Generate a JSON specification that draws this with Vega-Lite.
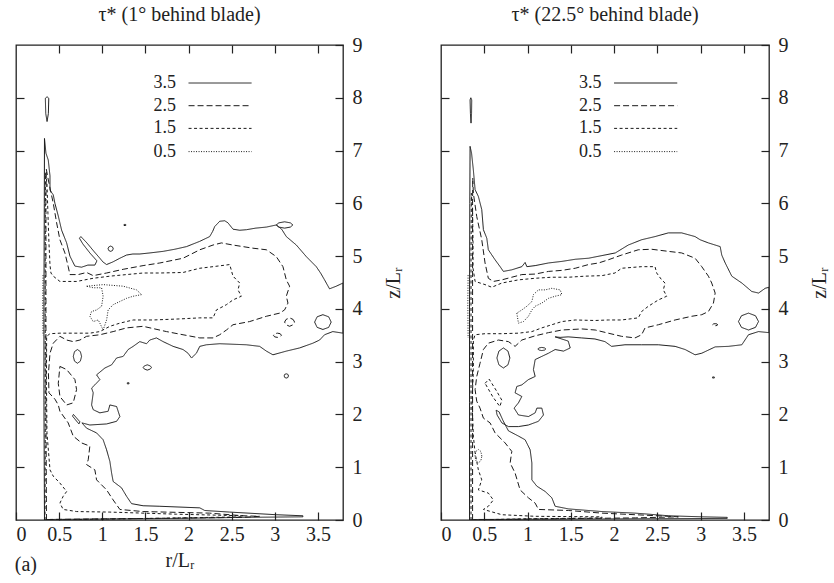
{
"$schema": "https://vega.github.io/schema/vega-lite/v6.json",
"padding": {"left": 14, "top": 4, "right": 0, "bottom": 0},
"config": {
 "font": "'Liberation Serif', 'Times New Roman', 'DejaVu Serif', serif",
 "view": {"stroke": "#222", "strokeWidth": 1.3},
 "axis": {"domain": false, "grid": false, "tickColor": "#222", "tickSize": -8, "tickWidth": 1.2, "labelFont": "'Liberation Serif', 'Times New Roman', 'DejaVu Serif', serif", "labelFontSize": 20, "labelColor": "#222", "titleFont": "'Liberation Serif', 'Times New Roman', 'DejaVu Serif', serif", "titleFontSize": 20, "titleFontWeight": "normal", "titleColor": "#222"},
 "title": {"font": "'Liberation Serif', 'Times New Roman', 'DejaVu Serif', serif", "fontSize": 20, "fontWeight": "normal", "color": "#222"}
},
"title": {"text": "(a)", "orient": "bottom", "anchor": "start", "offset": -16, "fontSize": 20},
"spacing": 35,
"datasets": {
 "leg": [
  {"lv": "3.5", "zl": 8.28, "x1": 2.0, "x2": 2.73, "xt": 1.9},
  {"lv": "2.5", "zl": 7.85, "x1": 2.0, "x2": 2.73, "xt": 1.9},
  {"lv": "1.5", "zl": 7.42, "x1": 2.0, "x2": 2.73, "xt": 1.9},
  {"lv": "0.5", "zl": 6.98, "x1": 2.0, "x2": 2.73, "xt": 1.9}
 ],
 "c": [
{"p":"L","c":"La","lv":"3.5","r":0.33,"z":0},{"p":"L","c":"La","lv":"3.5","r":0.324,"z":2.22},{"p":"L","c":"La","lv":"3.5","r":0.324,"z":4.11},{"p":"L","c":"La","lv":"3.5","r":0.328,"z":6.0},{"p":"L","c":"La","lv":"3.5","r":0.33,"z":7.23},{"p":"L","c":"La","lv":"3.5","r":0.347,"z":6.95},{"p":"L","c":"La","lv":"3.5","r":0.374,"z":6.82},{"p":"L","c":"La","lv":"3.5","r":0.394,"z":6.52},{"p":"L","c":"La","lv":"3.5","r":0.394,"z":6.25},{"p":"L","c":"La","lv":"3.5","r":0.432,"z":6.16},{"p":"L","c":"La","lv":"3.5","r":0.451,"z":6.0},{"p":"L","c":"La","lv":"3.5","r":0.49,"z":5.76},{"p":"L","c":"La","lv":"3.5","r":0.529,"z":5.49},{"p":"L","c":"La","lv":"3.5","r":0.587,"z":5.25},{"p":"L","c":"La","lv":"3.5","r":0.625,"z":5.0},{"p":"L","c":"La","lv":"3.5","r":0.683,"z":4.81},{"p":"L","c":"La","lv":"3.5","r":0.76,"z":4.79},{"p":"L","c":"La","lv":"3.5","r":0.833,"z":4.83},{"p":"L","c":"La","lv":"3.5","r":0.914,"z":4.83},{"p":"L","c":"La","lv":"3.5","r":0.938,"z":4.91},{"p":"L","c":"La","lv":"3.5","r":0.856,"z":5.06},{"p":"L","c":"La","lv":"3.5","r":0.775,"z":5.23},{"p":"L","c":"La","lv":"3.5","r":0.735,"z":5.34},{"p":"L","c":"La","lv":"3.5","r":0.752,"z":5.37},{"p":"L","c":"La","lv":"3.5","r":0.822,"z":5.25},{"p":"L","c":"La","lv":"3.5","r":0.903,"z":5.09},{"p":"L","c":"La","lv":"3.5","r":0.972,"z":4.96},{"p":"L","c":"La","lv":"3.5","r":1.007,"z":4.89},{"p":"L","c":"La","lv":"3.5","r":1.05,"z":4.84},{"p":"L","c":"La","lv":"3.5","r":1.123,"z":4.89},{"p":"L","c":"La","lv":"3.5","r":1.204,"z":4.96},{"p":"L","c":"La","lv":"3.5","r":1.281,"z":5.02},{"p":"L","c":"La","lv":"3.5","r":1.354,"z":5.04},{"p":"L","c":"La","lv":"3.5","r":1.435,"z":5.04},{"p":"L","c":"La","lv":"3.5","r":1.551,"z":5.06},{"p":"L","c":"La","lv":"3.5","r":1.705,"z":5.09},{"p":"L","c":"La","lv":"3.5","r":1.84,"z":5.13},{"p":"L","c":"La","lv":"3.5","r":1.976,"z":5.18},{"p":"L","c":"La","lv":"3.5","r":2.13,"z":5.28},{"p":"L","c":"La","lv":"3.5","r":2.245,"z":5.37},{"p":"L","c":"La","lv":"3.5","r":2.28,"z":5.47},{"p":"L","c":"La","lv":"3.5","r":2.303,"z":5.56},{"p":"L","c":"La","lv":"3.5","r":2.361,"z":5.66},{"p":"L","c":"La","lv":"3.5","r":2.419,"z":5.67},{"p":"L","c":"La","lv":"3.5","r":2.457,"z":5.63},{"p":"L","c":"La","lv":"3.5","r":2.515,"z":5.51},{"p":"L","c":"La","lv":"3.5","r":2.593,"z":5.49},{"p":"L","c":"La","lv":"3.5","r":2.67,"z":5.5},{"p":"L","c":"La","lv":"3.5","r":2.778,"z":5.53},{"p":"L","c":"La","lv":"3.5","r":2.902,"z":5.55},{"p":"L","c":"La","lv":"3.5","r":3.017,"z":5.59},{"p":"L","c":"La","lv":"3.5","r":3.079,"z":5.51},{"p":"L","c":"La","lv":"3.5","r":3.133,"z":5.37},{"p":"L","c":"La","lv":"3.5","r":3.249,"z":5.21},{"p":"L","c":"La","lv":"3.5","r":3.365,"z":4.99},{"p":"L","c":"La","lv":"3.5","r":3.48,"z":4.8},{"p":"L","c":"La","lv":"3.5","r":3.53,"z":4.68},{"p":"L","c":"La","lv":"3.5","r":3.576,"z":4.55},{"p":"L","c":"La","lv":"3.5","r":3.634,"z":4.38},{"p":"L","c":"La","lv":"3.5","r":3.712,"z":4.43},{"p":"L","c":"La","lv":"3.5","r":3.79,"z":4.49},{"p":"L","c":"La","lv":"3.5","r":3.79,"z":3.54},{"p":"L","c":"La","lv":"3.5","r":3.672,"z":3.57},{"p":"L","c":"La","lv":"3.5","r":3.576,"z":3.51},{"p":"L","c":"La","lv":"3.5","r":3.519,"z":3.41},{"p":"L","c":"La","lv":"3.5","r":3.441,"z":3.35},{"p":"L","c":"La","lv":"3.5","r":3.287,"z":3.26},{"p":"L","c":"La","lv":"3.5","r":3.133,"z":3.2},{"p":"L","c":"La","lv":"3.5","r":2.978,"z":3.13},{"p":"L","c":"La","lv":"3.5","r":2.902,"z":3.2},{"p":"L","c":"La","lv":"3.5","r":2.824,"z":3.29},{"p":"L","c":"La","lv":"3.5","r":2.67,"z":3.32},{"p":"L","c":"La","lv":"3.5","r":2.515,"z":3.33},{"p":"L","c":"La","lv":"3.5","r":2.361,"z":3.34},{"p":"L","c":"La","lv":"3.5","r":2.207,"z":3.32},{"p":"L","c":"La","lv":"3.5","r":2.13,"z":3.29},{"p":"L","c":"La","lv":"3.5","r":2.091,"z":3.16},{"p":"L","c":"La","lv":"3.5","r":2.034,"z":3.07},{"p":"L","c":"La","lv":"3.5","r":1.994,"z":3.16},{"p":"L","c":"La","lv":"3.5","r":1.936,"z":3.23},{"p":"L","c":"La","lv":"3.5","r":1.821,"z":3.29},{"p":"L","c":"La","lv":"3.5","r":1.705,"z":3.38},{"p":"L","c":"La","lv":"3.5","r":1.628,"z":3.45},{"p":"L","c":"La","lv":"3.5","r":1.551,"z":3.41},{"p":"L","c":"La","lv":"3.5","r":1.513,"z":3.34},{"p":"L","c":"La","lv":"3.5","r":1.435,"z":3.38},{"p":"L","c":"La","lv":"3.5","r":1.358,"z":3.29},{"p":"L","c":"La","lv":"3.5","r":1.3,"z":3.23},{"p":"L","c":"La","lv":"3.5","r":1.242,"z":3.1},{"p":"L","c":"La","lv":"3.5","r":1.166,"z":3.07},{"p":"L","c":"La","lv":"3.5","r":1.108,"z":2.94},{"p":"L","c":"La","lv":"3.5","r":1.03,"z":2.88},{"p":"L","c":"La","lv":"3.5","r":0.934,"z":2.75},{"p":"L","c":"La","lv":"3.5","r":0.972,"z":2.66},{"p":"L","c":"La","lv":"3.5","r":0.914,"z":2.56},{"p":"L","c":"La","lv":"3.5","r":0.876,"z":2.5},{"p":"L","c":"La","lv":"3.5","r":0.895,"z":2.41},{"p":"L","c":"La","lv":"3.5","r":0.876,"z":2.18},{"p":"L","c":"La","lv":"3.5","r":0.895,"z":2.09},{"p":"L","c":"La","lv":"3.5","r":0.972,"z":2.03},{"p":"L","c":"La","lv":"3.5","r":1.068,"z":2.06},{"p":"L","c":"La","lv":"3.5","r":1.088,"z":2.18},{"p":"L","c":"La","lv":"3.5","r":1.166,"z":2.15},{"p":"L","c":"La","lv":"3.5","r":1.204,"z":1.96},{"p":"L","c":"La","lv":"3.5","r":1.166,"z":1.87},{"p":"L","c":"La","lv":"3.5","r":1.05,"z":1.82},{"p":"L","c":"La","lv":"3.5","r":0.856,"z":1.8},{"p":"L","c":"La","lv":"3.5","r":0.764,"z":1.84},{"p":"L","c":"La","lv":"3.5","r":0.818,"z":1.74},{"p":"L","c":"La","lv":"3.5","r":0.934,"z":1.65},{"p":"L","c":"La","lv":"3.5","r":1.01,"z":1.52},{"p":"L","c":"La","lv":"3.5","r":1.05,"z":1.33},{"p":"L","c":"La","lv":"3.5","r":1.088,"z":1.11},{"p":"L","c":"La","lv":"3.5","r":1.108,"z":0.89},{"p":"L","c":"La","lv":"3.5","r":1.126,"z":0.73},{"p":"L","c":"La","lv":"3.5","r":1.223,"z":0.61},{"p":"L","c":"La","lv":"3.5","r":1.281,"z":0.45},{"p":"L","c":"La","lv":"3.5","r":1.339,"z":0.31},{"p":"L","c":"La","lv":"3.5","r":1.473,"z":0.27},{"p":"L","c":"La","lv":"3.5","r":1.667,"z":0.26},{"p":"L","c":"La","lv":"3.5","r":2.13,"z":0.23},{"p":"L","c":"La","lv":"3.5","r":2.188,"z":0.18},{"p":"L","c":"La","lv":"3.5","r":2.477,"z":0.15},{"p":"L","c":"La","lv":"3.5","r":3.017,"z":0.1},{"p":"L","c":"La","lv":"3.5","r":3.325,"z":0.08},{"p":"L","c":"La","lv":"3.5","r":3.325,"z":0.06},{"p":"L","c":"La","lv":"3.5","r":2.631,"z":0.05},{"p":"L","c":"La","lv":"3.5","r":1.86,"z":0.03},{"p":"L","c":"La","lv":"3.5","r":1.088,"z":0.02},{"p":"L","c":"La","lv":"3.5","r":0.394,"z":0.01},{"p":"L","c":"La","lv":"3.5","r":0.33,"z":0},
{"p":"L","c":"Lb","lv":"3.5","r":0.34,"z":7.99},{"p":"L","c":"Lb","lv":"3.5","r":0.345,"z":7.7},{"p":"L","c":"Lb","lv":"3.5","r":0.36,"z":7.55},{"p":"L","c":"Lb","lv":"3.5","r":0.375,"z":7.7},{"p":"L","c":"Lb","lv":"3.5","r":0.38,"z":7.99},{"p":"L","c":"Lb","lv":"3.5","r":0.36,"z":8.02},{"p":"L","c":"Lb","lv":"3.5","r":0.34,"z":7.99},
{"p":"L","c":"Lc","lv":"3.5","r":0.76,"z":3.1},{"p":"L","c":"Lc","lv":"3.5","r":0.746,"z":3.19},{"p":"L","c":"Lc","lv":"3.5","r":0.712,"z":3.23},{"p":"L","c":"Lc","lv":"3.5","r":0.678,"z":3.19},{"p":"L","c":"Lc","lv":"3.5","r":0.664,"z":3.1},{"p":"L","c":"Lc","lv":"3.5","r":0.678,"z":3.01},{"p":"L","c":"Lc","lv":"3.5","r":0.712,"z":2.97},{"p":"L","c":"Lc","lv":"3.5","r":0.746,"z":3.01},{"p":"L","c":"Lc","lv":"3.5","r":0.76,"z":3.1},
{"p":"L","c":"Ld","lv":"3.5","r":1.57,"z":2.89},{"p":"L","c":"Ld","lv":"3.5","r":1.556,"z":2.92},{"p":"L","c":"Ld","lv":"3.5","r":1.522,"z":2.94},{"p":"L","c":"Ld","lv":"3.5","r":1.488,"z":2.92},{"p":"L","c":"Ld","lv":"3.5","r":1.474,"z":2.89},{"p":"L","c":"Ld","lv":"3.5","r":1.488,"z":2.86},{"p":"L","c":"Ld","lv":"3.5","r":1.522,"z":2.84},{"p":"L","c":"Ld","lv":"3.5","r":1.556,"z":2.86},{"p":"L","c":"Ld","lv":"3.5","r":1.57,"z":2.89},
{"p":"L","c":"Le","lv":"3.5","r":1.29,"z":2.58},{"p":"L","c":"Le","lv":"3.5","r":1.31,"z":2.58},{"p":"L","c":"Le","lv":"3.5","r":1.31,"z":2.6},{"p":"L","c":"Le","lv":"3.5","r":1.29,"z":2.6},{"p":"L","c":"Le","lv":"3.5","r":1.29,"z":2.58},
{"p":"L","c":"Lf","lv":"3.5","r":1.252,"z":5.58},{"p":"L","c":"Lf","lv":"3.5","r":1.272,"z":5.58},{"p":"L","c":"Lf","lv":"3.5","r":1.272,"z":5.6},{"p":"L","c":"Lf","lv":"3.5","r":1.252,"z":5.6},{"p":"L","c":"Lf","lv":"3.5","r":1.252,"z":5.58},
{"p":"L","c":"Lg","lv":"3.5","r":1.127,"z":5.14},{"p":"L","c":"Lg","lv":"3.5","r":1.118,"z":5.175},{"p":"L","c":"Lg","lv":"3.5","r":1.097,"z":5.19},{"p":"L","c":"Lg","lv":"3.5","r":1.076,"z":5.175},{"p":"L","c":"Lg","lv":"3.5","r":1.067,"z":5.14},{"p":"L","c":"Lg","lv":"3.5","r":1.076,"z":5.105},{"p":"L","c":"Lg","lv":"3.5","r":1.097,"z":5.09},{"p":"L","c":"Lg","lv":"3.5","r":1.118,"z":5.105},{"p":"L","c":"Lg","lv":"3.5","r":1.127,"z":5.14},
{"p":"L","c":"Lh","lv":"3.5","r":3.158,"z":2.73},{"p":"L","c":"Lh","lv":"3.5","r":3.151,"z":2.76},{"p":"L","c":"Lh","lv":"3.5","r":3.133,"z":2.77},{"p":"L","c":"Lh","lv":"3.5","r":3.115,"z":2.76},{"p":"L","c":"Lh","lv":"3.5","r":3.108,"z":2.73},{"p":"L","c":"Lh","lv":"3.5","r":3.115,"z":2.7},{"p":"L","c":"Lh","lv":"3.5","r":3.133,"z":2.69},{"p":"L","c":"Lh","lv":"3.5","r":3.151,"z":2.7},{"p":"L","c":"Lh","lv":"3.5","r":3.158,"z":2.73},
{"p":"L","c":"Li","lv":"3.5","r":3.653,"z":3.75},{"p":"L","c":"Li","lv":"3.5","r":3.624,"z":3.85},{"p":"L","c":"Li","lv":"3.5","r":3.557,"z":3.89},{"p":"L","c":"Li","lv":"3.5","r":3.49,"z":3.85},{"p":"L","c":"Li","lv":"3.5","r":3.461,"z":3.75},{"p":"L","c":"Li","lv":"3.5","r":3.49,"z":3.65},{"p":"L","c":"Li","lv":"3.5","r":3.557,"z":3.61},{"p":"L","c":"Li","lv":"3.5","r":3.624,"z":3.65},{"p":"L","c":"Li","lv":"3.5","r":3.653,"z":3.75},
{"p":"L","c":"Lj","lv":"3.5","r":3.209,"z":5.59},{"p":"L","c":"Lj","lv":"3.5","r":3.18,"z":5.63},{"p":"L","c":"Lj","lv":"3.5","r":3.113,"z":5.65},{"p":"L","c":"Lj","lv":"3.5","r":3.046,"z":5.63},{"p":"L","c":"Lj","lv":"3.5","r":3.017,"z":5.59},{"p":"L","c":"Lj","lv":"3.5","r":3.046,"z":5.55},{"p":"L","c":"Lj","lv":"3.5","r":3.113,"z":5.53},{"p":"L","c":"Lj","lv":"3.5","r":3.18,"z":5.55},{"p":"L","c":"Lj","lv":"3.5","r":3.209,"z":5.59},
{"p":"L","c":"Lk","lv":"3.5","r":0.666,"z":2.0},{"p":"L","c":"Lk","lv":"3.5","r":0.741,"z":1.86},{"p":"L","c":"Lk","lv":"3.5","r":0.729,"z":1.82},{"p":"L","c":"Lk","lv":"3.5","r":0.654,"z":1.97},{"p":"L","c":"Lk","lv":"3.5","r":0.666,"z":2.0},
{"p":"L","c":"Ll","lv":"2.5","r":0.353,"z":0},{"p":"L","c":"Ll","lv":"2.5","r":0.347,"z":2.22},{"p":"L","c":"Ll","lv":"2.5","r":0.347,"z":4.11},{"p":"L","c":"Ll","lv":"2.5","r":0.347,"z":6.0},{"p":"L","c":"Ll","lv":"2.5","r":0.351,"z":6.65},{"p":"L","c":"Ll","lv":"2.5","r":0.37,"z":6.48},{"p":"L","c":"Ll","lv":"2.5","r":0.394,"z":6.29},{"p":"L","c":"Ll","lv":"2.5","r":0.432,"z":6.0},{"p":"L","c":"Ll","lv":"2.5","r":0.471,"z":5.63},{"p":"L","c":"Ll","lv":"2.5","r":0.509,"z":5.31},{"p":"L","c":"Ll","lv":"2.5","r":0.567,"z":5.06},{"p":"L","c":"Ll","lv":"2.5","r":0.605,"z":4.8},{"p":"L","c":"Ll","lv":"2.5","r":0.625,"z":4.65},{"p":"L","c":"Ll","lv":"2.5","r":0.721,"z":4.65},{"p":"L","c":"Ll","lv":"2.5","r":0.818,"z":4.69},{"p":"L","c":"Ll","lv":"2.5","r":0.895,"z":4.63},{"p":"L","c":"Ll","lv":"2.5","r":1.05,"z":4.68},{"p":"L","c":"Ll","lv":"2.5","r":1.242,"z":4.75},{"p":"L","c":"Ll","lv":"2.5","r":1.473,"z":4.82},{"p":"L","c":"Ll","lv":"2.5","r":1.667,"z":4.87},{"p":"L","c":"Ll","lv":"2.5","r":1.936,"z":4.96},{"p":"L","c":"Ll","lv":"2.5","r":2.13,"z":5.12},{"p":"L","c":"Ll","lv":"2.5","r":2.284,"z":5.21},{"p":"L","c":"Ll","lv":"2.5","r":2.381,"z":5.25},{"p":"L","c":"Ll","lv":"2.5","r":2.515,"z":5.21},{"p":"L","c":"Ll","lv":"2.5","r":2.747,"z":5.15},{"p":"L","c":"Ll","lv":"2.5","r":2.902,"z":5.12},{"p":"L","c":"Ll","lv":"2.5","r":3.017,"z":4.99},{"p":"L","c":"Ll","lv":"2.5","r":3.094,"z":4.8},{"p":"L","c":"Ll","lv":"2.5","r":3.133,"z":4.55},{"p":"L","c":"Ll","lv":"2.5","r":3.171,"z":4.43},{"p":"L","c":"Ll","lv":"2.5","r":3.133,"z":4.24},{"p":"L","c":"Ll","lv":"2.5","r":3.152,"z":4.11},{"p":"L","c":"Ll","lv":"2.5","r":3.113,"z":3.98},{"p":"L","c":"Ll","lv":"2.5","r":3.056,"z":3.92},{"p":"L","c":"Ll","lv":"2.5","r":2.902,"z":3.86},{"p":"L","c":"Ll","lv":"2.5","r":2.708,"z":3.76},{"p":"L","c":"Ll","lv":"2.5","r":2.515,"z":3.7},{"p":"L","c":"Ll","lv":"2.5","r":2.439,"z":3.6},{"p":"L","c":"Ll","lv":"2.5","r":2.361,"z":3.51},{"p":"L","c":"Ll","lv":"2.5","r":2.284,"z":3.45},{"p":"L","c":"Ll","lv":"2.5","r":2.13,"z":3.45},{"p":"L","c":"Ll","lv":"2.5","r":1.936,"z":3.51},{"p":"L","c":"Ll","lv":"2.5","r":1.744,"z":3.57},{"p":"L","c":"Ll","lv":"2.5","r":1.473,"z":3.67},{"p":"L","c":"Ll","lv":"2.5","r":1.281,"z":3.64},{"p":"L","c":"Ll","lv":"2.5","r":1.126,"z":3.57},{"p":"L","c":"Ll","lv":"2.5","r":0.972,"z":3.51},{"p":"L","c":"Ll","lv":"2.5","r":0.818,"z":3.48},{"p":"L","c":"Ll","lv":"2.5","r":0.741,"z":3.41},{"p":"L","c":"Ll","lv":"2.5","r":0.663,"z":3.38},{"p":"L","c":"Ll","lv":"2.5","r":0.587,"z":3.41},{"p":"L","c":"Ll","lv":"2.5","r":0.509,"z":3.48},{"p":"L","c":"Ll","lv":"2.5","r":0.432,"z":3.35},{"p":"L","c":"Ll","lv":"2.5","r":0.394,"z":3.16},{"p":"L","c":"Ll","lv":"2.5","r":0.376,"z":2.78},{"p":"L","c":"Ll","lv":"2.5","r":0.382,"z":2.41},{"p":"L","c":"Ll","lv":"2.5","r":0.451,"z":2.29},{"p":"L","c":"Ll","lv":"2.5","r":0.49,"z":2.18},{"p":"L","c":"Ll","lv":"2.5","r":0.509,"z":2.06},{"p":"L","c":"Ll","lv":"2.5","r":0.605,"z":1.84},{"p":"L","c":"Ll","lv":"2.5","r":0.663,"z":1.59},{"p":"L","c":"Ll","lv":"2.5","r":0.76,"z":1.46},{"p":"L","c":"Ll","lv":"2.5","r":0.856,"z":1.4},{"p":"L","c":"Ll","lv":"2.5","r":0.837,"z":1.14},{"p":"L","c":"Ll","lv":"2.5","r":0.818,"z":1.05},{"p":"L","c":"Ll","lv":"2.5","r":0.914,"z":0.95},{"p":"L","c":"Ll","lv":"2.5","r":0.934,"z":0.76},{"p":"L","c":"Ll","lv":"2.5","r":1.05,"z":0.57},{"p":"L","c":"Ll","lv":"2.5","r":1.126,"z":0.38},{"p":"L","c":"Ll","lv":"2.5","r":1.204,"z":0.2},{"p":"L","c":"Ll","lv":"2.5","r":1.473,"z":0.16},{"p":"L","c":"Ll","lv":"2.5","r":2.245,"z":0.13},{"p":"L","c":"Ll","lv":"2.5","r":2.631,"z":0.08},{"p":"L","c":"Ll","lv":"2.5","r":2.824,"z":0.07},{"p":"L","c":"Ll","lv":"2.5","r":2.631,"z":0.05},{"p":"L","c":"Ll","lv":"2.5","r":1.551,"z":0.03},{"p":"L","c":"Ll","lv":"2.5","r":0.394,"z":0.01},{"p":"L","c":"Ll","lv":"2.5","r":0.353,"z":0},
{"p":"L","c":"Lm","lv":"2.5","r":0.509,"z":2.91},{"p":"L","c":"Lm","lv":"2.5","r":0.587,"z":2.85},{"p":"L","c":"Lm","lv":"2.5","r":0.683,"z":2.66},{"p":"L","c":"Lm","lv":"2.5","r":0.702,"z":2.47},{"p":"L","c":"Lm","lv":"2.5","r":0.663,"z":2.22},{"p":"L","c":"Lm","lv":"2.5","r":0.587,"z":2.18},{"p":"L","c":"Lm","lv":"2.5","r":0.509,"z":2.34},{"p":"L","c":"Lm","lv":"2.5","r":0.49,"z":2.59},{"p":"L","c":"Lm","lv":"2.5","r":0.509,"z":2.91},
{"p":"L","c":"Ln","lv":"2.5","r":3.229,"z":3.75},{"p":"L","c":"Ln","lv":"2.5","r":3.212,"z":3.8},{"p":"L","c":"Ln","lv":"2.5","r":3.171,"z":3.83},{"p":"L","c":"Ln","lv":"2.5","r":3.13,"z":3.8},{"p":"L","c":"Ln","lv":"2.5","r":3.113,"z":3.75},{"p":"L","c":"Ln","lv":"2.5","r":3.13,"z":3.7},{"p":"L","c":"Ln","lv":"2.5","r":3.171,"z":3.67},{"p":"L","c":"Ln","lv":"2.5","r":3.212,"z":3.7},{"p":"L","c":"Ln","lv":"2.5","r":3.229,"z":3.75},
{"p":"L","c":"Lo","lv":"2.5","r":3.076,"z":3.5},{"p":"L","c":"Lo","lv":"2.5","r":3.062,"z":3.53},{"p":"L","c":"Lo","lv":"2.5","r":3.03,"z":3.54},{"p":"L","c":"Lo","lv":"2.5","r":2.998,"z":3.53},{"p":"L","c":"Lo","lv":"2.5","r":2.984,"z":3.5},{"p":"L","c":"Lo","lv":"2.5","r":2.998,"z":3.47},{"p":"L","c":"Lo","lv":"2.5","r":3.03,"z":3.46},{"p":"L","c":"Lo","lv":"2.5","r":3.062,"z":3.47},{"p":"L","c":"Lo","lv":"2.5","r":3.076,"z":3.5},
{"p":"L","c":"Lp","lv":"1.5","r":0.336,"z":0},{"p":"L","c":"Lp","lv":"1.5","r":0.339,"z":1.27},{"p":"L","c":"Lp","lv":"1.5","r":0.339,"z":3.16},{"p":"L","c":"Lp","lv":"1.5","r":0.339,"z":5.06},{"p":"L","c":"Lp","lv":"1.5","r":0.341,"z":6.57},{"p":"L","c":"Lp","lv":"1.5","r":0.359,"z":6.38},{"p":"L","c":"Lp","lv":"1.5","r":0.37,"z":5.81},{"p":"L","c":"Lp","lv":"1.5","r":0.382,"z":5.25},{"p":"L","c":"Lp","lv":"1.5","r":0.394,"z":4.83},{"p":"L","c":"Lp","lv":"1.5","r":0.405,"z":4.68},{"p":"L","c":"Lp","lv":"1.5","r":0.432,"z":4.62},{"p":"L","c":"Lp","lv":"1.5","r":0.509,"z":4.52},{"p":"L","c":"Lp","lv":"1.5","r":0.703,"z":4.52},{"p":"L","c":"Lp","lv":"1.5","r":0.895,"z":4.58},{"p":"L","c":"Lp","lv":"1.5","r":1.088,"z":4.62},{"p":"L","c":"Lp","lv":"1.5","r":1.281,"z":4.65},{"p":"L","c":"Lp","lv":"1.5","r":1.473,"z":4.68},{"p":"L","c":"Lp","lv":"1.5","r":1.667,"z":4.68},{"p":"L","c":"Lp","lv":"1.5","r":1.936,"z":4.69},{"p":"L","c":"Lp","lv":"1.5","r":2.13,"z":4.77},{"p":"L","c":"Lp","lv":"1.5","r":2.284,"z":4.8},{"p":"L","c":"Lp","lv":"1.5","r":2.477,"z":4.84},{"p":"L","c":"Lp","lv":"1.5","r":2.515,"z":4.62},{"p":"L","c":"Lp","lv":"1.5","r":2.593,"z":4.49},{"p":"L","c":"Lp","lv":"1.5","r":2.573,"z":4.36},{"p":"L","c":"Lp","lv":"1.5","r":2.612,"z":4.24},{"p":"L","c":"Lp","lv":"1.5","r":2.515,"z":4.17},{"p":"L","c":"Lp","lv":"1.5","r":2.439,"z":4.08},{"p":"L","c":"Lp","lv":"1.5","r":2.323,"z":3.98},{"p":"L","c":"Lp","lv":"1.5","r":2.284,"z":3.83},{"p":"L","c":"Lp","lv":"1.5","r":2.13,"z":3.83},{"p":"L","c":"Lp","lv":"1.5","r":1.898,"z":3.81},{"p":"L","c":"Lp","lv":"1.5","r":1.589,"z":3.79},{"p":"L","c":"Lp","lv":"1.5","r":1.358,"z":3.79},{"p":"L","c":"Lp","lv":"1.5","r":1.204,"z":3.73},{"p":"L","c":"Lp","lv":"1.5","r":1.088,"z":3.67},{"p":"L","c":"Lp","lv":"1.5","r":0.972,"z":3.57},{"p":"L","c":"Lp","lv":"1.5","r":0.856,"z":3.54},{"p":"L","c":"Lp","lv":"1.5","r":0.663,"z":3.54},{"p":"L","c":"Lp","lv":"1.5","r":0.509,"z":3.54},{"p":"L","c":"Lp","lv":"1.5","r":0.394,"z":3.53},{"p":"L","c":"Lp","lv":"1.5","r":0.355,"z":3.48},{"p":"L","c":"Lp","lv":"1.5","r":0.353,"z":2.59},{"p":"L","c":"Lp","lv":"1.5","r":0.359,"z":1.65},{"p":"L","c":"Lp","lv":"1.5","r":0.394,"z":0.95},{"p":"L","c":"Lp","lv":"1.5","r":0.432,"z":0.83},{"p":"L","c":"Lp","lv":"1.5","r":0.509,"z":0.7},{"p":"L","c":"Lp","lv":"1.5","r":0.587,"z":0.54},{"p":"L","c":"Lp","lv":"1.5","r":0.547,"z":0.45},{"p":"L","c":"Lp","lv":"1.5","r":0.509,"z":0.32},{"p":"L","c":"Lp","lv":"1.5","r":0.547,"z":0.2},{"p":"L","c":"Lp","lv":"1.5","r":0.703,"z":0.16},{"p":"L","c":"Lp","lv":"1.5","r":1.088,"z":0.15},{"p":"L","c":"Lp","lv":"1.5","r":1.86,"z":0.11},{"p":"L","c":"Lp","lv":"1.5","r":2.631,"z":0.08},{"p":"L","c":"Lp","lv":"1.5","r":2.631,"z":0.06},{"p":"L","c":"Lp","lv":"1.5","r":1.551,"z":0.03},{"p":"L","c":"Lp","lv":"1.5","r":0.336,"z":0},
{"p":"L","c":"Lq","lv":"0.5","r":0.818,"z":4.43},{"p":"L","c":"Lq","lv":"0.5","r":1.01,"z":4.46},{"p":"L","c":"Lq","lv":"0.5","r":1.242,"z":4.43},{"p":"L","c":"Lq","lv":"0.5","r":1.397,"z":4.36},{"p":"L","c":"Lq","lv":"0.5","r":1.455,"z":4.27},{"p":"L","c":"Lq","lv":"0.5","r":1.358,"z":4.24},{"p":"L","c":"Lq","lv":"0.5","r":1.281,"z":4.2},{"p":"L","c":"Lq","lv":"0.5","r":1.204,"z":4.14},{"p":"L","c":"Lq","lv":"0.5","r":1.126,"z":4.08},{"p":"L","c":"Lq","lv":"0.5","r":1.068,"z":3.98},{"p":"L","c":"Lq","lv":"0.5","r":1.05,"z":3.79},{"p":"L","c":"Lq","lv":"0.5","r":1.01,"z":3.6},{"p":"L","c":"Lq","lv":"0.5","r":0.972,"z":3.73},{"p":"L","c":"Lq","lv":"0.5","r":0.953,"z":3.79},{"p":"L","c":"Lq","lv":"0.5","r":0.895,"z":3.76},{"p":"L","c":"Lq","lv":"0.5","r":0.856,"z":3.86},{"p":"L","c":"Lq","lv":"0.5","r":0.876,"z":3.95},{"p":"L","c":"Lq","lv":"0.5","r":0.934,"z":3.98},{"p":"L","c":"Lq","lv":"0.5","r":0.992,"z":4.05},{"p":"L","c":"Lq","lv":"0.5","r":1.01,"z":4.24},{"p":"L","c":"Lq","lv":"0.5","r":0.992,"z":4.4},{"p":"L","c":"Lq","lv":"0.5","r":0.895,"z":4.4},{"p":"L","c":"Lq","lv":"0.5","r":0.818,"z":4.43},
{"p":"L","c":"Lr","lv":"0.5","r":0.313,"z":4.64},{"p":"L","c":"Lr","lv":"0.5","r":0.31,"z":4.1},{"p":"L","c":"Lr","lv":"0.5","r":0.313,"z":3.5},
{"p":"R","c":"Ra","lv":"3.5","r":0.33,"z":0},{"p":"R","c":"Ra","lv":"3.5","r":0.33,"z":2.22},{"p":"R","c":"Ra","lv":"3.5","r":0.33,"z":4.11},{"p":"R","c":"Ra","lv":"3.5","r":0.333,"z":6.0},{"p":"R","c":"Ra","lv":"3.5","r":0.336,"z":7.08},{"p":"R","c":"Ra","lv":"3.5","r":0.353,"z":6.95},{"p":"R","c":"Ra","lv":"3.5","r":0.374,"z":6.63},{"p":"R","c":"Ra","lv":"3.5","r":0.394,"z":6.26},{"p":"R","c":"Ra","lv":"3.5","r":0.432,"z":6.13},{"p":"R","c":"Ra","lv":"3.5","r":0.471,"z":5.88},{"p":"R","c":"Ra","lv":"3.5","r":0.49,"z":5.5},{"p":"R","c":"Ra","lv":"3.5","r":0.529,"z":5.34},{"p":"R","c":"Ra","lv":"3.5","r":0.547,"z":5.12},{"p":"R","c":"Ra","lv":"3.5","r":0.625,"z":4.93},{"p":"R","c":"Ra","lv":"3.5","r":0.683,"z":4.8},{"p":"R","c":"Ra","lv":"3.5","r":0.721,"z":4.71},{"p":"R","c":"Ra","lv":"3.5","r":0.818,"z":4.74},{"p":"R","c":"Ra","lv":"3.5","r":0.934,"z":4.8},{"p":"R","c":"Ra","lv":"3.5","r":0.972,"z":4.88},{"p":"R","c":"Ra","lv":"3.5","r":0.992,"z":4.8},{"p":"R","c":"Ra","lv":"3.5","r":1.088,"z":4.82},{"p":"R","c":"Ra","lv":"3.5","r":1.242,"z":4.87},{"p":"R","c":"Ra","lv":"3.5","r":1.397,"z":4.9},{"p":"R","c":"Ra","lv":"3.5","r":1.551,"z":4.94},{"p":"R","c":"Ra","lv":"3.5","r":1.705,"z":4.96},{"p":"R","c":"Ra","lv":"3.5","r":1.86,"z":5.01},{"p":"R","c":"Ra","lv":"3.5","r":2.014,"z":5.06},{"p":"R","c":"Ra","lv":"3.5","r":2.164,"z":5.21},{"p":"R","c":"Ra","lv":"3.5","r":2.318,"z":5.31},{"p":"R","c":"Ra","lv":"3.5","r":2.473,"z":5.37},{"p":"R","c":"Ra","lv":"3.5","r":2.627,"z":5.44},{"p":"R","c":"Ra","lv":"3.5","r":2.781,"z":5.44},{"p":"R","c":"Ra","lv":"3.5","r":2.936,"z":5.37},{"p":"R","c":"Ra","lv":"3.5","r":2.994,"z":5.31},{"p":"R","c":"Ra","lv":"3.5","r":3.09,"z":5.25},{"p":"R","c":"Ra","lv":"3.5","r":3.226,"z":5.18},{"p":"R","c":"Ra","lv":"3.5","r":3.244,"z":5.02},{"p":"R","c":"Ra","lv":"3.5","r":3.284,"z":4.87},{"p":"R","c":"Ra","lv":"3.5","r":3.36,"z":4.62},{"p":"R","c":"Ra","lv":"3.5","r":3.476,"z":4.49},{"p":"R","c":"Ra","lv":"3.5","r":3.591,"z":4.33},{"p":"R","c":"Ra","lv":"3.5","r":3.669,"z":4.3},{"p":"R","c":"Ra","lv":"3.5","r":3.746,"z":4.39},{"p":"R","c":"Ra","lv":"3.5","r":3.79,"z":4.41},{"p":"R","c":"Ra","lv":"3.5","r":3.79,"z":3.55},{"p":"R","c":"Ra","lv":"3.5","r":3.669,"z":3.57},{"p":"R","c":"Ra","lv":"3.5","r":3.553,"z":3.51},{"p":"R","c":"Ra","lv":"3.5","r":3.476,"z":3.32},{"p":"R","c":"Ra","lv":"3.5","r":3.322,"z":3.29},{"p":"R","c":"Ra","lv":"3.5","r":3.168,"z":3.28},{"p":"R","c":"Ra","lv":"3.5","r":3.013,"z":3.16},{"p":"R","c":"Ra","lv":"3.5","r":2.936,"z":3.13},{"p":"R","c":"Ra","lv":"3.5","r":2.821,"z":3.23},{"p":"R","c":"Ra","lv":"3.5","r":2.705,"z":3.29},{"p":"R","c":"Ra","lv":"3.5","r":2.512,"z":3.32},{"p":"R","c":"Ra","lv":"3.5","r":2.318,"z":3.32},{"p":"R","c":"Ra","lv":"3.5","r":2.126,"z":3.32},{"p":"R","c":"Ra","lv":"3.5","r":1.971,"z":3.29},{"p":"R","c":"Ra","lv":"3.5","r":1.895,"z":3.38},{"p":"R","c":"Ra","lv":"3.5","r":1.779,"z":3.43},{"p":"R","c":"Ra","lv":"3.5","r":1.624,"z":3.45},{"p":"R","c":"Ra","lv":"3.5","r":1.47,"z":3.47},{"p":"R","c":"Ra","lv":"3.5","r":1.377,"z":3.46},{"p":"R","c":"Ra","lv":"3.5","r":1.319,"z":3.47},{"p":"R","c":"Ra","lv":"3.5","r":1.47,"z":3.39},{"p":"R","c":"Ra","lv":"3.5","r":1.493,"z":3.26},{"p":"R","c":"Ra","lv":"3.5","r":1.416,"z":3.2},{"p":"R","c":"Ra","lv":"3.5","r":1.319,"z":3.23},{"p":"R","c":"Ra","lv":"3.5","r":1.242,"z":3.16},{"p":"R","c":"Ra","lv":"3.5","r":1.165,"z":3.1},{"p":"R","c":"Ra","lv":"3.5","r":1.088,"z":3.04},{"p":"R","c":"Ra","lv":"3.5","r":1.068,"z":2.85},{"p":"R","c":"Ra","lv":"3.5","r":1.088,"z":2.72},{"p":"R","c":"Ra","lv":"3.5","r":1.01,"z":2.66},{"p":"R","c":"Ra","lv":"3.5","r":0.934,"z":2.56},{"p":"R","c":"Ra","lv":"3.5","r":0.876,"z":2.53},{"p":"R","c":"Ra","lv":"3.5","r":0.856,"z":2.41},{"p":"R","c":"Ra","lv":"3.5","r":0.934,"z":2.34},{"p":"R","c":"Ra","lv":"3.5","r":0.895,"z":2.22},{"p":"R","c":"Ra","lv":"3.5","r":0.845,"z":2.12},{"p":"R","c":"Ra","lv":"3.5","r":0.895,"z":1.99},{"p":"R","c":"Ra","lv":"3.5","r":1.01,"z":1.96},{"p":"R","c":"Ra","lv":"3.5","r":1.088,"z":2.03},{"p":"R","c":"Ra","lv":"3.5","r":1.108,"z":2.12},{"p":"R","c":"Ra","lv":"3.5","r":1.165,"z":2.12},{"p":"R","c":"Ra","lv":"3.5","r":1.184,"z":1.99},{"p":"R","c":"Ra","lv":"3.5","r":1.126,"z":1.87},{"p":"R","c":"Ra","lv":"3.5","r":1.01,"z":1.8},{"p":"R","c":"Ra","lv":"3.5","r":0.895,"z":1.77},{"p":"R","c":"Ra","lv":"3.5","r":0.779,"z":1.77},{"p":"R","c":"Ra","lv":"3.5","r":0.703,"z":1.84},{"p":"R","c":"Ra","lv":"3.5","r":0.648,"z":1.99},{"p":"R","c":"Ra","lv":"3.5","r":0.637,"z":2.08},{"p":"R","c":"Ra","lv":"3.5","r":0.671,"z":2.05},{"p":"R","c":"Ra","lv":"3.5","r":0.718,"z":1.88},{"p":"R","c":"Ra","lv":"3.5","r":0.779,"z":1.69},{"p":"R","c":"Ra","lv":"3.5","r":0.895,"z":1.59},{"p":"R","c":"Ra","lv":"3.5","r":0.972,"z":1.52},{"p":"R","c":"Ra","lv":"3.5","r":1.03,"z":1.33},{"p":"R","c":"Ra","lv":"3.5","r":1.05,"z":1.08},{"p":"R","c":"Ra","lv":"3.5","r":1.05,"z":0.76},{"p":"R","c":"Ra","lv":"3.5","r":1.108,"z":0.64},{"p":"R","c":"Ra","lv":"3.5","r":1.204,"z":0.54},{"p":"R","c":"Ra","lv":"3.5","r":1.281,"z":0.42},{"p":"R","c":"Ra","lv":"3.5","r":1.319,"z":0.26},{"p":"R","c":"Ra","lv":"3.5","r":1.474,"z":0.21},{"p":"R","c":"Ra","lv":"3.5","r":1.86,"z":0.16},{"p":"R","c":"Ra","lv":"3.5","r":2.245,"z":0.13},{"p":"R","c":"Ra","lv":"3.5","r":2.631,"z":0.08},{"p":"R","c":"Ra","lv":"3.5","r":3.017,"z":0.06},{"p":"R","c":"Ra","lv":"3.5","r":3.307,"z":0.05},{"p":"R","c":"Ra","lv":"3.5","r":3.307,"z":0.03},{"p":"R","c":"Ra","lv":"3.5","r":1.86,"z":0.02},{"p":"R","c":"Ra","lv":"3.5","r":0.428,"z":0.01},{"p":"R","c":"Ra","lv":"3.5","r":0.33,"z":0},
{"p":"R","c":"Rb","lv":"3.5","r":0.336,"z":7.96},{"p":"R","c":"Rb","lv":"3.5","r":0.34,"z":7.7},{"p":"R","c":"Rb","lv":"3.5","r":0.347,"z":7.52},{"p":"R","c":"Rb","lv":"3.5","r":0.353,"z":7.7},{"p":"R","c":"Rb","lv":"3.5","r":0.355,"z":7.96},{"p":"R","c":"Rb","lv":"3.5","r":0.345,"z":8.0},{"p":"R","c":"Rb","lv":"3.5","r":0.336,"z":7.96},
{"p":"R","c":"Rc","lv":"3.5","r":0.796,"z":3.07},{"p":"R","c":"Rc","lv":"3.5","r":0.774,"z":3.2},{"p":"R","c":"Rc","lv":"3.5","r":0.721,"z":3.26},{"p":"R","c":"Rc","lv":"3.5","r":0.669,"z":3.2},{"p":"R","c":"Rc","lv":"3.5","r":0.646,"z":3.07},{"p":"R","c":"Rc","lv":"3.5","r":0.669,"z":2.94},{"p":"R","c":"Rc","lv":"3.5","r":0.721,"z":2.88},{"p":"R","c":"Rc","lv":"3.5","r":0.774,"z":2.94},{"p":"R","c":"Rc","lv":"3.5","r":0.796,"z":3.07},
{"p":"R","c":"Rd","lv":"3.5","r":1.211,"z":3.24},{"p":"R","c":"Rd","lv":"3.5","r":1.197,"z":3.26},{"p":"R","c":"Rd","lv":"3.5","r":1.165,"z":3.27},{"p":"R","c":"Rd","lv":"3.5","r":1.133,"z":3.26},{"p":"R","c":"Rd","lv":"3.5","r":1.119,"z":3.24},{"p":"R","c":"Rd","lv":"3.5","r":1.133,"z":3.22},{"p":"R","c":"Rd","lv":"3.5","r":1.165,"z":3.21},{"p":"R","c":"Rd","lv":"3.5","r":1.197,"z":3.22},{"p":"R","c":"Rd","lv":"3.5","r":1.211,"z":3.24},
{"p":"R","c":"Re","lv":"3.5","r":3.138,"z":2.69},{"p":"R","c":"Re","lv":"3.5","r":3.158,"z":2.69},{"p":"R","c":"Re","lv":"3.5","r":3.158,"z":2.71},{"p":"R","c":"Re","lv":"3.5","r":3.138,"z":2.71},{"p":"R","c":"Re","lv":"3.5","r":3.138,"z":2.69},
{"p":"R","c":"Rf","lv":"3.5","r":3.669,"z":3.76},{"p":"R","c":"Rf","lv":"3.5","r":3.634,"z":3.87},{"p":"R","c":"Rf","lv":"3.5","r":3.553,"z":3.92},{"p":"R","c":"Rf","lv":"3.5","r":3.472,"z":3.87},{"p":"R","c":"Rf","lv":"3.5","r":3.437,"z":3.76},{"p":"R","c":"Rf","lv":"3.5","r":3.472,"z":3.65},{"p":"R","c":"Rf","lv":"3.5","r":3.553,"z":3.6},{"p":"R","c":"Rf","lv":"3.5","r":3.634,"z":3.65},{"p":"R","c":"Rf","lv":"3.5","r":3.669,"z":3.76},
{"p":"R","c":"Rg","lv":"2.5","r":0.365,"z":0},{"p":"R","c":"Rg","lv":"2.5","r":0.365,"z":2.22},{"p":"R","c":"Rg","lv":"2.5","r":0.365,"z":4.11},{"p":"R","c":"Rg","lv":"2.5","r":0.365,"z":6.0},{"p":"R","c":"Rg","lv":"2.5","r":0.367,"z":6.48},{"p":"R","c":"Rg","lv":"2.5","r":0.374,"z":6.19},{"p":"R","c":"Rg","lv":"2.5","r":0.413,"z":5.75},{"p":"R","c":"Rg","lv":"2.5","r":0.471,"z":5.31},{"p":"R","c":"Rg","lv":"2.5","r":0.509,"z":4.87},{"p":"R","c":"Rg","lv":"2.5","r":0.547,"z":4.58},{"p":"R","c":"Rg","lv":"2.5","r":0.605,"z":4.52},{"p":"R","c":"Rg","lv":"2.5","r":0.703,"z":4.55},{"p":"R","c":"Rg","lv":"2.5","r":0.818,"z":4.6},{"p":"R","c":"Rg","lv":"2.5","r":0.934,"z":4.65},{"p":"R","c":"Rg","lv":"2.5","r":1.088,"z":4.66},{"p":"R","c":"Rg","lv":"2.5","r":1.242,"z":4.71},{"p":"R","c":"Rg","lv":"2.5","r":1.397,"z":4.73},{"p":"R","c":"Rg","lv":"2.5","r":1.551,"z":4.77},{"p":"R","c":"Rg","lv":"2.5","r":1.705,"z":4.84},{"p":"R","c":"Rg","lv":"2.5","r":1.821,"z":4.87},{"p":"R","c":"Rg","lv":"2.5","r":1.933,"z":4.93},{"p":"R","c":"Rg","lv":"2.5","r":2.087,"z":5.02},{"p":"R","c":"Rg","lv":"2.5","r":2.28,"z":5.12},{"p":"R","c":"Rg","lv":"2.5","r":2.434,"z":5.13},{"p":"R","c":"Rg","lv":"2.5","r":2.627,"z":5.09},{"p":"R","c":"Rg","lv":"2.5","r":2.781,"z":5.06},{"p":"R","c":"Rg","lv":"2.5","r":2.936,"z":4.96},{"p":"R","c":"Rg","lv":"2.5","r":3.013,"z":4.8},{"p":"R","c":"Rg","lv":"2.5","r":3.09,"z":4.62},{"p":"R","c":"Rg","lv":"2.5","r":3.128,"z":4.49},{"p":"R","c":"Rg","lv":"2.5","r":3.168,"z":4.3},{"p":"R","c":"Rg","lv":"2.5","r":3.148,"z":4.11},{"p":"R","c":"Rg","lv":"2.5","r":3.09,"z":3.95},{"p":"R","c":"Rg","lv":"2.5","r":3.013,"z":3.89},{"p":"R","c":"Rg","lv":"2.5","r":2.897,"z":3.86},{"p":"R","c":"Rg","lv":"2.5","r":2.705,"z":3.79},{"p":"R","c":"Rg","lv":"2.5","r":2.512,"z":3.7},{"p":"R","c":"Rg","lv":"2.5","r":2.358,"z":3.64},{"p":"R","c":"Rg","lv":"2.5","r":2.318,"z":3.51},{"p":"R","c":"Rg","lv":"2.5","r":2.242,"z":3.45},{"p":"R","c":"Rg","lv":"2.5","r":2.087,"z":3.48},{"p":"R","c":"Rg","lv":"2.5","r":1.933,"z":3.54},{"p":"R","c":"Rg","lv":"2.5","r":1.782,"z":3.6},{"p":"R","c":"Rg","lv":"2.5","r":1.628,"z":3.62},{"p":"R","c":"Rg","lv":"2.5","r":1.397,"z":3.6},{"p":"R","c":"Rg","lv":"2.5","r":1.242,"z":3.55},{"p":"R","c":"Rg","lv":"2.5","r":1.088,"z":3.49},{"p":"R","c":"Rg","lv":"2.5","r":0.934,"z":3.41},{"p":"R","c":"Rg","lv":"2.5","r":0.856,"z":3.29},{"p":"R","c":"Rg","lv":"2.5","r":0.779,"z":3.38},{"p":"R","c":"Rg","lv":"2.5","r":0.663,"z":3.41},{"p":"R","c":"Rg","lv":"2.5","r":0.547,"z":3.35},{"p":"R","c":"Rg","lv":"2.5","r":0.49,"z":3.23},{"p":"R","c":"Rg","lv":"2.5","r":0.451,"z":2.97},{"p":"R","c":"Rg","lv":"2.5","r":0.413,"z":2.72},{"p":"R","c":"Rg","lv":"2.5","r":0.394,"z":2.47},{"p":"R","c":"Rg","lv":"2.5","r":0.413,"z":2.25},{"p":"R","c":"Rg","lv":"2.5","r":0.451,"z":2.12},{"p":"R","c":"Rg","lv":"2.5","r":0.49,"z":1.93},{"p":"R","c":"Rg","lv":"2.5","r":0.567,"z":1.84},{"p":"R","c":"Rg","lv":"2.5","r":0.625,"z":1.65},{"p":"R","c":"Rg","lv":"2.5","r":0.741,"z":1.46},{"p":"R","c":"Rg","lv":"2.5","r":0.818,"z":1.3},{"p":"R","c":"Rg","lv":"2.5","r":0.799,"z":1.08},{"p":"R","c":"Rg","lv":"2.5","r":0.856,"z":0.89},{"p":"R","c":"Rg","lv":"2.5","r":0.914,"z":0.57},{"p":"R","c":"Rg","lv":"2.5","r":1.01,"z":0.42},{"p":"R","c":"Rg","lv":"2.5","r":1.088,"z":0.32},{"p":"R","c":"Rg","lv":"2.5","r":1.126,"z":0.2},{"p":"R","c":"Rg","lv":"2.5","r":1.474,"z":0.18},{"p":"R","c":"Rg","lv":"2.5","r":1.86,"z":0.13},{"p":"R","c":"Rg","lv":"2.5","r":2.245,"z":0.1},{"p":"R","c":"Rg","lv":"2.5","r":2.631,"z":0.07},{"p":"R","c":"Rg","lv":"2.5","r":2.743,"z":0.06},{"p":"R","c":"Rg","lv":"2.5","r":2.245,"z":0.04},{"p":"R","c":"Rg","lv":"2.5","r":1.123,"z":0.02},{"p":"R","c":"Rg","lv":"2.5","r":0.365,"z":0},
{"p":"R","c":"Rh","lv":"2.5","r":3.198,"z":3.7},{"p":"R","c":"Rh","lv":"2.5","r":3.189,"z":3.714},{"p":"R","c":"Rh","lv":"2.5","r":3.168,"z":3.72},{"p":"R","c":"Rh","lv":"2.5","r":3.147,"z":3.714},{"p":"R","c":"Rh","lv":"2.5","r":3.138,"z":3.7},{"p":"R","c":"Rh","lv":"2.5","r":3.147,"z":3.686},{"p":"R","c":"Rh","lv":"2.5","r":3.168,"z":3.68},{"p":"R","c":"Rh","lv":"2.5","r":3.189,"z":3.686},{"p":"R","c":"Rh","lv":"2.5","r":3.198,"z":3.7},
{"p":"R","c":"Ri","lv":"1.5","r":0.347,"z":0},{"p":"R","c":"Ri","lv":"1.5","r":0.347,"z":1.84},{"p":"R","c":"Ri","lv":"1.5","r":0.347,"z":3.35},{"p":"R","c":"Ri","lv":"1.5","r":0.347,"z":5.06},{"p":"R","c":"Ri","lv":"1.5","r":0.351,"z":6.19},{"p":"R","c":"Ri","lv":"1.5","r":0.365,"z":5.81},{"p":"R","c":"Ri","lv":"1.5","r":0.37,"z":5.25},{"p":"R","c":"Ri","lv":"1.5","r":0.37,"z":4.77},{"p":"R","c":"Ri","lv":"1.5","r":0.394,"z":4.52},{"p":"R","c":"Ri","lv":"1.5","r":0.509,"z":4.46},{"p":"R","c":"Ri","lv":"1.5","r":0.587,"z":4.41},{"p":"R","c":"Ri","lv":"1.5","r":0.703,"z":4.49},{"p":"R","c":"Ri","lv":"1.5","r":0.895,"z":4.55},{"p":"R","c":"Ri","lv":"1.5","r":1.088,"z":4.58},{"p":"R","c":"Ri","lv":"1.5","r":1.281,"z":4.6},{"p":"R","c":"Ri","lv":"1.5","r":1.474,"z":4.6},{"p":"R","c":"Ri","lv":"1.5","r":1.667,"z":4.62},{"p":"R","c":"Ri","lv":"1.5","r":1.86,"z":4.63},{"p":"R","c":"Ri","lv":"1.5","r":2.01,"z":4.68},{"p":"R","c":"Ri","lv":"1.5","r":2.087,"z":4.77},{"p":"R","c":"Ri","lv":"1.5","r":2.318,"z":4.8},{"p":"R","c":"Ri","lv":"1.5","r":2.473,"z":4.8},{"p":"R","c":"Ri","lv":"1.5","r":2.492,"z":4.68},{"p":"R","c":"Ri","lv":"1.5","r":2.55,"z":4.55},{"p":"R","c":"Ri","lv":"1.5","r":2.589,"z":4.49},{"p":"R","c":"Ri","lv":"1.5","r":2.569,"z":4.36},{"p":"R","c":"Ri","lv":"1.5","r":2.608,"z":4.24},{"p":"R","c":"Ri","lv":"1.5","r":2.512,"z":4.17},{"p":"R","c":"Ri","lv":"1.5","r":2.396,"z":4.05},{"p":"R","c":"Ri","lv":"1.5","r":2.318,"z":3.95},{"p":"R","c":"Ri","lv":"1.5","r":2.28,"z":3.83},{"p":"R","c":"Ri","lv":"1.5","r":2.087,"z":3.79},{"p":"R","c":"Ri","lv":"1.5","r":1.933,"z":3.79},{"p":"R","c":"Ri","lv":"1.5","r":1.779,"z":3.78},{"p":"R","c":"Ri","lv":"1.5","r":1.551,"z":3.79},{"p":"R","c":"Ri","lv":"1.5","r":1.397,"z":3.76},{"p":"R","c":"Ri","lv":"1.5","r":1.281,"z":3.7},{"p":"R","c":"Ri","lv":"1.5","r":1.165,"z":3.64},{"p":"R","c":"Ri","lv":"1.5","r":1.05,"z":3.57},{"p":"R","c":"Ri","lv":"1.5","r":0.895,"z":3.54},{"p":"R","c":"Ri","lv":"1.5","r":0.703,"z":3.53},{"p":"R","c":"Ri","lv":"1.5","r":0.509,"z":3.53},{"p":"R","c":"Ri","lv":"1.5","r":0.394,"z":3.51},{"p":"R","c":"Ri","lv":"1.5","r":0.374,"z":3.41},{"p":"R","c":"Ri","lv":"1.5","r":0.374,"z":2.85},{"p":"R","c":"Ri","lv":"1.5","r":0.359,"z":2.22},{"p":"R","c":"Ri","lv":"1.5","r":0.374,"z":1.59},{"p":"R","c":"Ri","lv":"1.5","r":0.394,"z":1.27},{"p":"R","c":"Ri","lv":"1.5","r":0.432,"z":0.95},{"p":"R","c":"Ri","lv":"1.5","r":0.471,"z":0.76},{"p":"R","c":"Ri","lv":"1.5","r":0.432,"z":0.57},{"p":"R","c":"Ri","lv":"1.5","r":0.547,"z":0.51},{"p":"R","c":"Ri","lv":"1.5","r":0.605,"z":0.38},{"p":"R","c":"Ri","lv":"1.5","r":0.547,"z":0.26},{"p":"R","c":"Ri","lv":"1.5","r":0.49,"z":0.2},{"p":"R","c":"Ri","lv":"1.5","r":0.703,"z":0.1},{"p":"R","c":"Ri","lv":"1.5","r":1.088,"z":0.07},{"p":"R","c":"Ri","lv":"1.5","r":1.86,"z":0.06},{"p":"R","c":"Ri","lv":"1.5","r":1.86,"z":0.04},{"p":"R","c":"Ri","lv":"1.5","r":0.891,"z":0.02},{"p":"R","c":"Ri","lv":"1.5","r":0.347,"z":0},
{"p":"R","c":"Rj","lv":"1.5","r":0.509,"z":2.59},{"p":"R","c":"Rj","lv":"1.5","r":0.556,"z":2.67},{"p":"R","c":"Rj","lv":"1.5","r":0.64,"z":2.45},{"p":"R","c":"Rj","lv":"1.5","r":0.703,"z":2.27},{"p":"R","c":"Rj","lv":"1.5","r":0.68,"z":2.15},{"p":"R","c":"Rj","lv":"1.5","r":0.6,"z":2.33},{"p":"R","c":"Rj","lv":"1.5","r":0.509,"z":2.59},
{"p":"R","c":"Rk","lv":"0.5","r":0.876,"z":3.92},{"p":"R","c":"Rk","lv":"0.5","r":0.895,"z":3.73},{"p":"R","c":"Rk","lv":"0.5","r":0.953,"z":3.76},{"p":"R","c":"Rk","lv":"0.5","r":1.01,"z":3.86},{"p":"R","c":"Rk","lv":"0.5","r":1.05,"z":3.98},{"p":"R","c":"Rk","lv":"0.5","r":1.088,"z":4.05},{"p":"R","c":"Rk","lv":"0.5","r":1.165,"z":4.11},{"p":"R","c":"Rk","lv":"0.5","r":1.242,"z":4.2},{"p":"R","c":"Rk","lv":"0.5","r":1.319,"z":4.24},{"p":"R","c":"Rk","lv":"0.5","r":1.397,"z":4.27},{"p":"R","c":"Rk","lv":"0.5","r":1.377,"z":4.36},{"p":"R","c":"Rk","lv":"0.5","r":1.281,"z":4.39},{"p":"R","c":"Rk","lv":"0.5","r":1.204,"z":4.36},{"p":"R","c":"Rk","lv":"0.5","r":1.126,"z":4.36},{"p":"R","c":"Rk","lv":"0.5","r":1.068,"z":4.27},{"p":"R","c":"Rk","lv":"0.5","r":1.05,"z":4.14},{"p":"R","c":"Rk","lv":"0.5","r":0.992,"z":4.05},{"p":"R","c":"Rk","lv":"0.5","r":0.934,"z":3.98},{"p":"R","c":"Rk","lv":"0.5","r":0.876,"z":3.92},
{"p":"R","c":"Rl","lv":"0.5","r":0.472,"z":1.21},{"p":"R","c":"Rl","lv":"0.5","r":0.46,"z":1.3},{"p":"R","c":"Rl","lv":"0.5","r":0.432,"z":1.335},{"p":"R","c":"Rl","lv":"0.5","r":0.404,"z":1.3},{"p":"R","c":"Rl","lv":"0.5","r":0.392,"z":1.21},{"p":"R","c":"Rl","lv":"0.5","r":0.404,"z":1.12},{"p":"R","c":"Rl","lv":"0.5","r":0.432,"z":1.085},{"p":"R","c":"Rl","lv":"0.5","r":0.46,"z":1.12},{"p":"R","c":"Rl","lv":"0.5","r":0.472,"z":1.21},
{"p":"R","c":"Rm","lv":"0.5","r":0.313,"z":4.64},{"p":"R","c":"Rm","lv":"0.5","r":0.31,"z":4.1},{"p":"R","c":"Rm","lv":"0.5","r":0.313,"z":3.45}
 ]
},
"hconcat": [
 {
  "width": 327, "height": 475,
  "title": {"text": "τ* (1° behind blade)", "offset": 10},
  "resolve": {"axis": {"x": "independent", "y": "independent"}},
  "layer": [
   {
    "data": {"name": "c"},
    "transform": [{"filter": "datum.p === 'L'"}],
    "mark": {"type": "line", "strokeWidth": 1, "color": "#1a1a1a", "clip": true},
    "encoding": {
     "x": {"field": "r", "type": "quantitative", "scale": {"domain": [0, 3.79], "nice": false, "zero": false}, "axis": {"orient": "bottom", "values": [0, 0.5, 1, 1.5, 2, 2.5, 3, 3.5], "format": "~g", "labelPadding": 12, "title": "r/Lᵣ", "titlePadding": 6}},
     "y": {"field": "z", "type": "quantitative", "scale": {"domain": [0, 9], "nice": false, "zero": false}, "axis": {"orient": "right", "values": [0, 1, 2, 3, 4, 5, 6, 7, 8, 9], "format": "d", "labelPadding": 17, "title": "z/Lᵣ", "titleAngle": 270, "titlePadding": 41}},
     "detail": {"field": "c"},
     "order": {"value": null},
     "strokeDash": {"field": "lv", "type": "nominal", "scale": {"domain": ["3.5", "2.5", "1.5", "0.5"], "range": [[1, 0], [6, 3], [3, 2.5], [1, 1.5]]}, "legend": null}
    }
   },
   {
    "data": {"name": "leg"},
    "mark": {"type": "rule", "strokeWidth": 1, "color": "#1a1a1a"},
    "encoding": {
     "x": {"field": "x1", "type": "quantitative", "axis": {"orient": "top", "values": [0.5, 1, 1.5, 2, 2.5, 3, 3.5], "labels": false, "title": null}},
     "x2": {"field": "x2"},
     "y": {"field": "zl", "type": "quantitative", "axis": {"orient": "left", "values": [1, 2, 3, 4, 5, 6, 7, 8], "labels": false, "title": null}},
     "strokeDash": {"field": "lv", "type": "nominal", "legend": null}
    }
   },
   {
    "data": {"name": "leg"},
    "mark": {"type": "text", "align": "right", "baseline": "middle", "fontSize": 18, "font": "'Liberation Serif', 'Times New Roman', 'DejaVu Serif', serif", "color": "#222", "dx": -4},
    "encoding": {
     "x": {"field": "xt", "type": "quantitative", "axis": null},
     "y": {"field": "zl", "type": "quantitative", "axis": null},
     "text": {"field": "lv"}
    }
   }
  ]
 },
 {
  "width": 328, "height": 475,
  "title": {"text": "τ* (22.5° behind blade)", "offset": 10},
  "resolve": {"axis": {"x": "independent", "y": "independent"}},
  "layer": [
   {
    "data": {"name": "c"},
    "transform": [{"filter": "datum.p === 'R'"}],
    "mark": {"type": "line", "strokeWidth": 1, "color": "#1a1a1a", "clip": true},
    "encoding": {
     "x": {"field": "r", "type": "quantitative", "scale": {"domain": [0, 3.79], "nice": false, "zero": false}, "axis": {"orient": "bottom", "values": [0, 0.5, 1, 1.5, 2, 2.5, 3, 3.5], "format": "~g", "labelPadding": 12, "title": null}},
     "y": {"field": "z", "type": "quantitative", "scale": {"domain": [0, 9], "nice": false, "zero": false}, "axis": {"orient": "right", "values": [0, 1, 2, 3, 4, 5, 6, 7, 8, 9], "format": "d", "labelPadding": 17, "title": "z/Lᵣ", "titleAngle": 270, "titlePadding": 41}},
     "detail": {"field": "c"},
     "order": {"value": null},
     "strokeDash": {"field": "lv", "type": "nominal", "scale": {"domain": ["3.5", "2.5", "1.5", "0.5"], "range": [[1, 0], [6, 3], [3, 2.5], [1, 1.5]]}, "legend": null}
    }
   },
   {
    "data": {"name": "leg"},
    "mark": {"type": "rule", "strokeWidth": 1, "color": "#1a1a1a"},
    "encoding": {
     "x": {"field": "x1", "type": "quantitative", "axis": {"orient": "top", "values": [0.5, 1, 1.5, 2, 2.5, 3, 3.5], "labels": false, "title": null}},
     "x2": {"field": "x2"},
     "y": {"field": "zl", "type": "quantitative", "axis": {"orient": "left", "values": [1, 2, 3, 4, 5, 6, 7, 8], "labels": false, "title": null}},
     "strokeDash": {"field": "lv", "type": "nominal", "legend": null}
    }
   },
   {
    "data": {"name": "leg"},
    "mark": {"type": "text", "align": "right", "baseline": "middle", "fontSize": 18, "font": "'Liberation Serif', 'Times New Roman', 'DejaVu Serif', serif", "color": "#222", "dx": -4},
    "encoding": {
     "x": {"field": "xt", "type": "quantitative", "axis": null},
     "y": {"field": "zl", "type": "quantitative", "axis": null},
     "text": {"field": "lv"}
    }
   }
  ]
 }
]
}
